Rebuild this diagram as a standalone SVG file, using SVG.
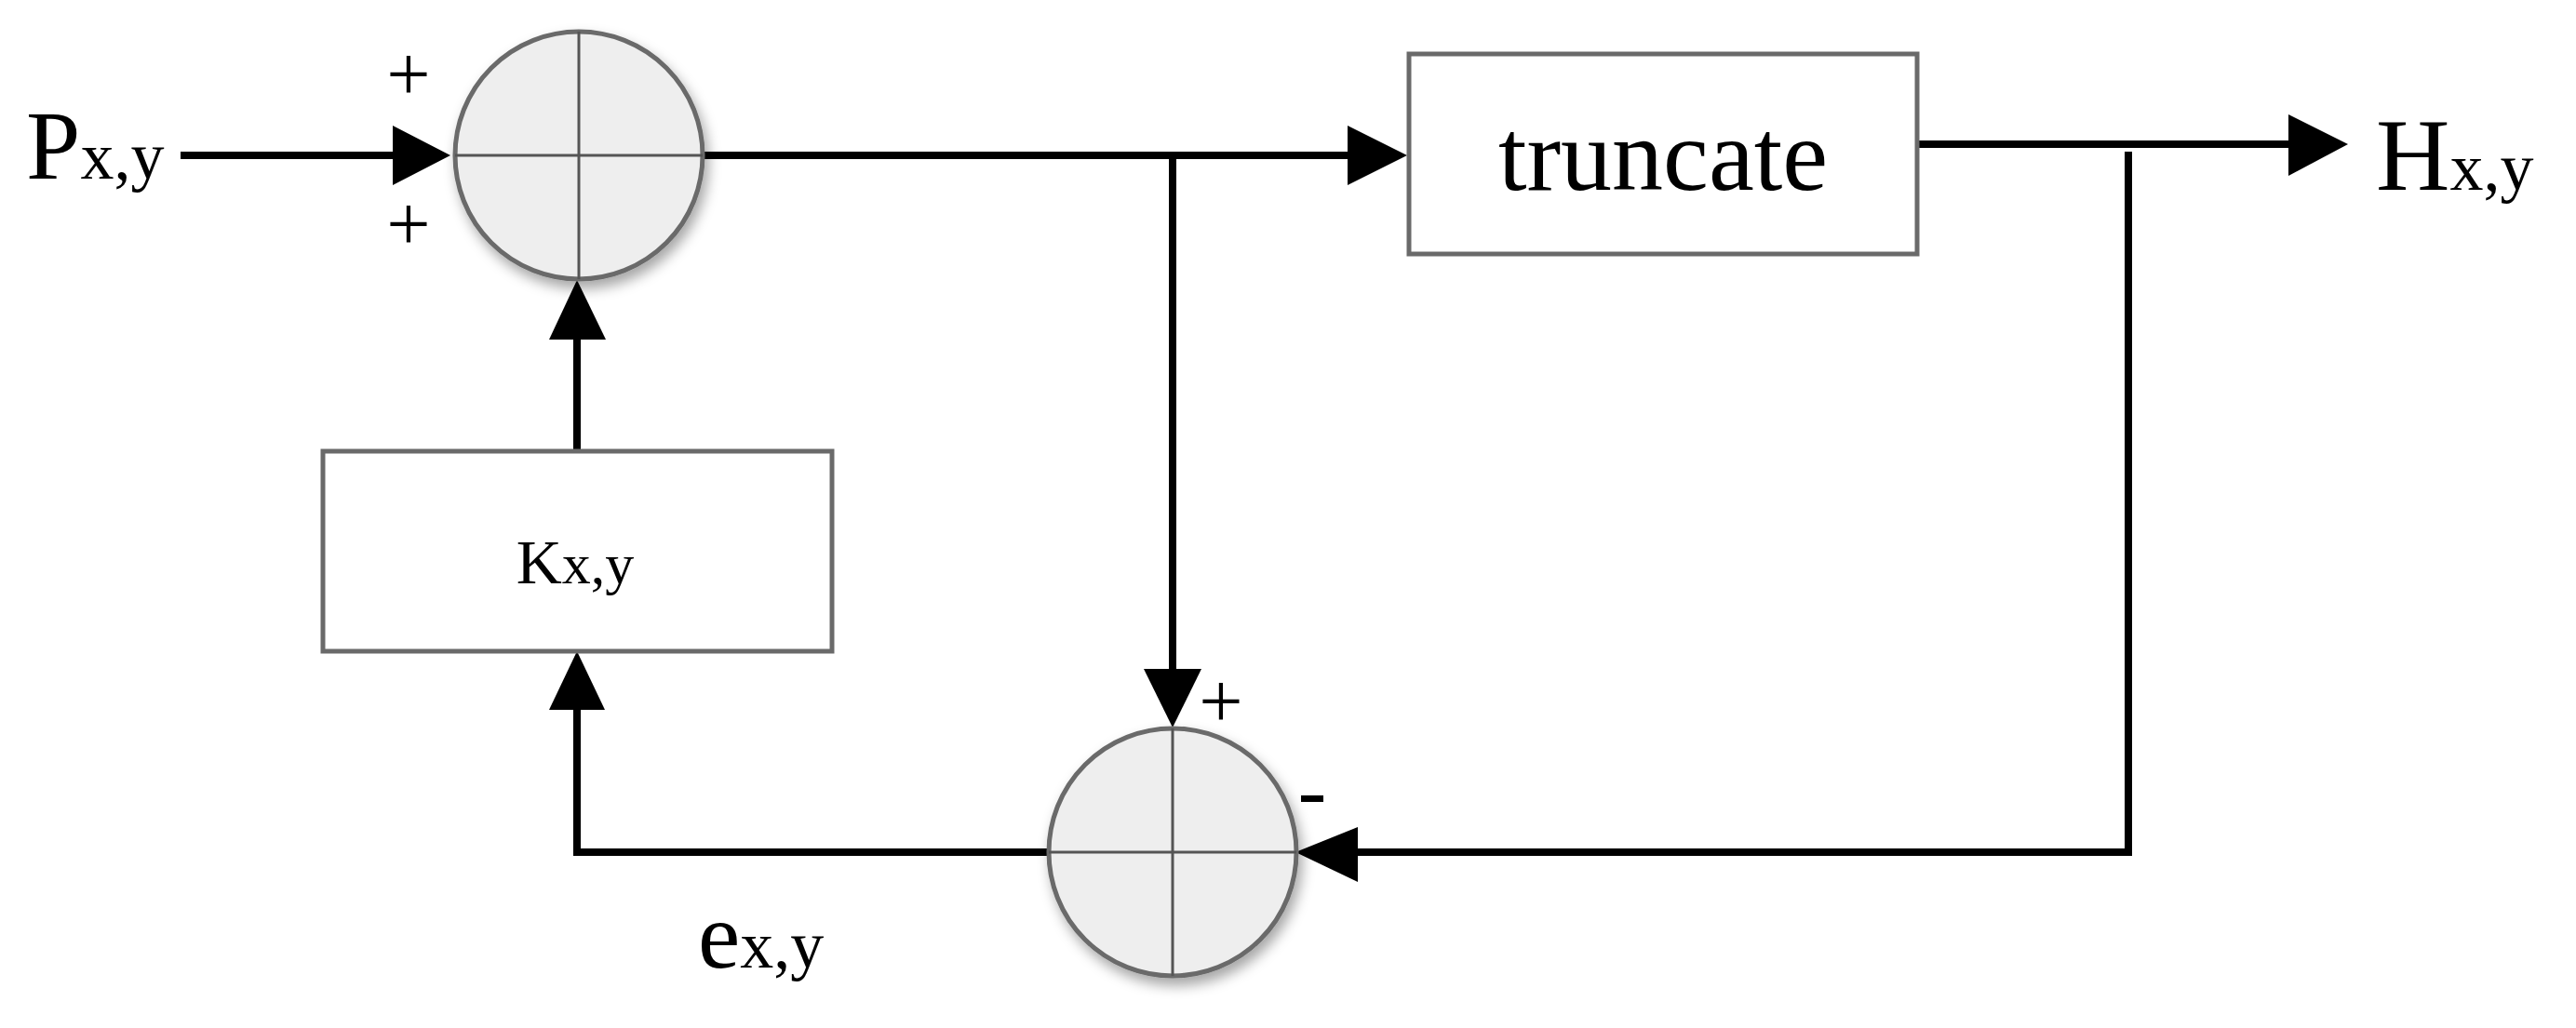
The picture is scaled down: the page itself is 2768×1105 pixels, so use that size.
<svg xmlns="http://www.w3.org/2000/svg" width="2768" height="1105" viewBox="0 0 2768 1105">
<style>
.ln{stroke:#000;stroke-width:8;fill:none}
.sum{fill:#eeeeee;stroke:#6a6a6a;stroke-width:5}
.cr{stroke:#555;stroke-width:3}
.box{fill:#fff;stroke:#6a6a6a;stroke-width:5}
text{font-family:"Liberation Serif","Times New Roman",serif;fill:#000}
</style>
<defs>
<filter id="sh" x="-30%" y="-30%" width="160%" height="160%"><feDropShadow dx="4" dy="8" stdDeviation="7" flood-color="#000" flood-opacity="0.35"/></filter>
</defs>
<g id="connectors">
<line class="ln" x1="194" y1="167" x2="425" y2="167"/><polygon points="484,167 422,135 422,199"/>
<line class="ln" x1="755" y1="167" x2="1450" y2="167"/><polygon points="1512,167 1448,135 1448,199"/>
<line class="ln" x1="1260" y1="167" x2="1260" y2="722"/><polygon points="1260,782 1229,719 1291,719"/>
<line class="ln" x1="2060" y1="155" x2="2462" y2="155"/><polygon points="2523,155 2459,123 2459,189"/>
<polyline class="ln" points="2287,163 2287,916 1455,916"/><polygon points="1392,916 1459,889 1459,948"/>
<polyline class="ln" points="1128,916 620,916 620,760"/><polygon points="620,700 590,763 650,763"/>
<line class="ln" x1="620" y1="485" x2="620" y2="362"/><polygon points="620,301 590,365 651,365"/>
</g>
<g id="sum1">
<circle class="sum" cx="622" cy="167" r="133" filter="url(#sh)"/>
<line class="cr" x1="489" y1="167" x2="755" y2="167"/><line class="cr" x1="622" y1="34" x2="622" y2="300"/>
<text x="439" y="108" font-size="84" text-anchor="middle">+</text>
<text x="439" y="269" font-size="84" text-anchor="middle">+</text>
</g>
<g id="sum2">
<circle class="sum" cx="1260" cy="916" r="133" filter="url(#sh)"/>
<line class="cr" x1="1127" y1="916" x2="1393" y2="916"/><line class="cr" x1="1260" y1="783" x2="1260" y2="1049"/>
<text x="1312" y="782" font-size="84" text-anchor="middle">+</text>
<rect x="1398" y="855" width="24" height="7" fill="#000"/>
</g>
<g id="truncate">
<rect class="box" x="1514" y="58" width="546" height="215"/>
<text x="1787" y="204" font-size="110" text-anchor="middle">truncate</text>
</g>
<g id="k">
<rect class="box" x="347" y="485" width="547" height="215"/>
<text x="618" y="627" font-size="68" text-anchor="middle">K<tspan font-size="62">x,y</tspan></text>
</g>
<g id="labels">
<text x="28" y="192" font-size="105">P<tspan font-size="72">x,y</tspan></text>
<text x="2553" y="204" font-size="110">H<tspan font-size="72">x,y</tspan></text>
<text x="750" y="1040" font-size="102">e<tspan font-size="72">x,y</tspan></text>
</g>
</svg>
